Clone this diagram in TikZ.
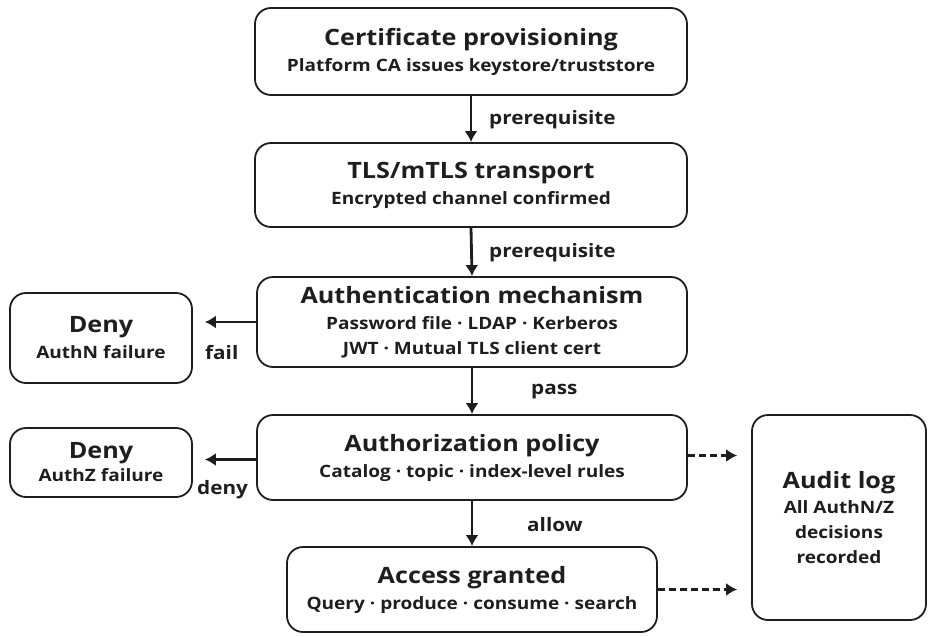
\documentclass[tikz,border=0pt]{standalone}
\usepackage{fontspec}
\setmainfont{Open Sans}[FakeStretch=1.12]
\usetikzlibrary{arrows.meta}
\definecolor{inkgray}{HTML}{1E1E1E}
\tikzset{
	stage/.style={
			draw=inkgray, line width=1.8pt, rounded corners=16pt,
			align=center, inner sep=0pt, text=inkgray,
			font=\bfseries\fontsize{17}{25}\selectfont
		},
	flow/.style={draw=inkgray, line width=2.8pt, -{Latex[length=11pt,width=13pt]}},
	logflow/.style={flow, dash pattern=on 7pt off 4pt},
	edgetext/.style={font=\bfseries\fontsize{18.5}{20}\selectfont, text=inkgray, inner sep=0pt, anchor=west}
}
\newcommand{\stagetitle}[1]{{\fontsize{22.5}{26}\selectfont #1}}

\begin{document}
\begin{tikzpicture}[x=1pt,y=-1pt]
			\useasboundingbox (0,0) rectangle (929,635);
			% main chain
			\node[stage, minimum width=432pt, minimum height=87pt] (cert) at (471,51.5)
			{\stagetitle{Certificate provisioning}\\[1pt]Platform CA issues keystore/truststore};
			\node[stage, minimum width=432pt, minimum height=84pt] (tls) at (471,185)
			{\stagetitle{TLS/mTLS transport}\\[1pt]Encrypted channel confirmed};
			\node[stage, minimum width=430pt, minimum height=90pt] (authn) at (472,322)
			{\stagetitle{Authentication mechanism}\\[1pt]Password file · LDAP · Kerberos\\JWT · Mutual TLS client cert};
			\node[stage, minimum width=430pt, minimum height=85pt] (authz) at (472,457.5)
			{\stagetitle{Authorization policy}\\[1pt]Catalog · topic · index-level rules};
			\node[stage, minimum width=370pt, minimum height=85pt] (access) at (472,589.5)
			{\stagetitle{Access granted}\\[1pt]Query · produce · consume · search};

			% side boxes
			\node[stage, minimum width=182pt, minimum height=90pt] (denyn) at (101,338)
			{\stagetitle{Deny}\\[1pt]AuthN failure};
			\node[stage, minimum width=182pt, minimum height=69pt] (denyz) at (101,462.5)
			{\stagetitle{Deny}\\[-2pt]AuthZ failure};
			\node[stage, minimum width=174pt, minimum height=205pt] (audit) at (839,517.5)
			{\stagetitle{Audit log}\\All AuthN/Z\\decisions\\recorded};

			% connectors
			\draw[flow] (cert.south) -- (tls.north);
			\draw[flow] (tls.south) -- (authn.north);
			\draw[flow] (authn.south) -- (authz.north);
			\draw[flow] (authz.south) -- (access.north);
			\draw[flow, shorten >=12pt] (authn.west) -- (authn.west -| denyn.east);
			\draw[flow, shorten >=12pt] ([yshift=-2pt]authz.west) -- ([yshift=-2pt]authz.west -| denyz.east);
			\draw[logflow, shorten >=14pt] ([yshift=2pt]authz.east) -- ([yshift=2pt]authz.east -| audit.west);
			\draw[logflow, shorten >=14pt] (access.east) -- (access.east -| audit.west);

			% edge labels
			\node[edgetext] (lblcert) at (489,120) {prerequisite};
			\node[edgetext] (lbltls) at (489,253) {prerequisite};
			\node[edgetext] (lblfail) at (205,353) {fail};
			\node[edgetext] (lblpass) at (531,392) {pass};
			\node[edgetext] (lbldeny) at (197,490) {deny};
			\node[edgetext] (lblallow) at (527,525) {allow};
		\end{tikzpicture}
\end{document}
